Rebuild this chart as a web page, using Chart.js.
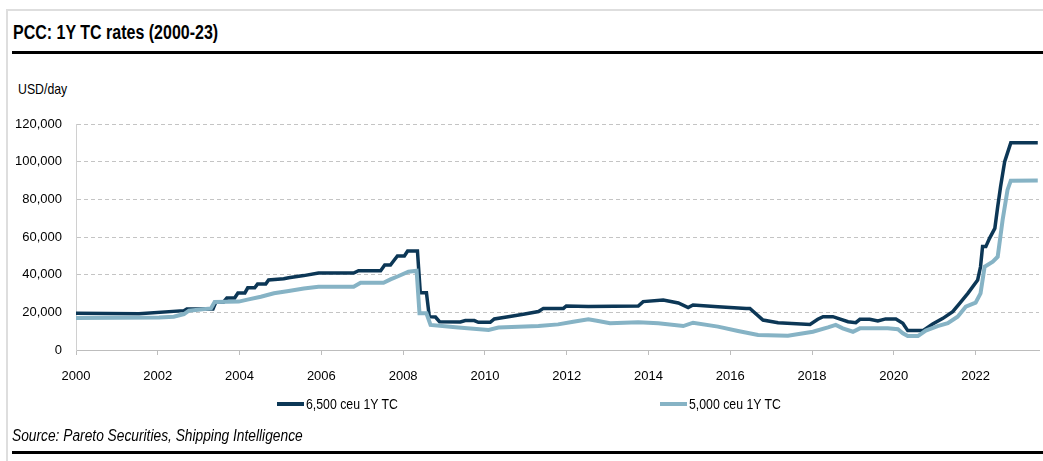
<!DOCTYPE html>
<html>
<head>
<meta charset="utf-8">
<script src="https://cdn.jsdelivr.net/npm/chart.js@4"></script>
<style>
  body { margin: 0; background: #fff; font-family: 'Liberation Sans', Arial, sans-serif; }
  #wrap { position: relative; width: 1043px; height: 461px; overflow: hidden; }
  #frame { position: absolute; left: 6px; top: 9px; width: 1100px; height: 500px; border: 2px solid #dedede; box-sizing: border-box; }
  .narrow { transform-origin: 0 50%; white-space: nowrap; }
  #title { position: absolute; left: 13px; top: 21px; font-size: 20px; font-weight: bold; color: #000; transform: scaleX(0.8); }
  .rule { position: absolute; left: 12px; right: 0; height: 3px; background: #000; }
  #unit { position: absolute; left: 18px; top: 80px; font-size: 15px; color: #000; transform: scaleX(0.82); }
  #chart { position: absolute; left: 0; top: 0; }
  .leg { position: absolute; top: 395px; font-size: 15px; color: #000; }
  .leg i { display: inline-block; width: 27px; height: 4px; vertical-align: middle; position: relative; top: -1px; }
  .leg span { display: inline-block; transform: scaleX(0.82); transform-origin: 0 50%; margin-left: 2px; }
  #source { position: absolute; left: 12px; top: 427px; font-size: 16px; font-style: italic; color: #000; transform: scaleX(0.86); }
</style>
</head>
<body>
<div id="wrap">
  <div id="frame"></div>
  <div id="title" class="narrow">PCC: 1Y TC rates (2000-23)</div>
  <div class="rule" style="top:51px"></div>
  <div id="unit" class="narrow">USD/day</div>
  <canvas id="chart" width="1043" height="461"></canvas>
  <div class="leg narrow" style="left:277px"><i style="background:#0c3756"></i><span>6,500 ceu 1Y TC</span></div>
  <div class="leg narrow" style="left:660px"><i style="background:#86b3c5"></i><span>5,000 ceu 1Y TC</span></div>
  <div id="source" class="narrow">Source: Pareto Securities, Shipping Intelligence</div>
  <div class="rule" style="top:451px"></div>
</div>
<script>
// 6,500 ceu 1Y TC (USD/day)
const bigYears = [2000.00, 2001.54, 2002.64, 2002.71, 2003.35, 2003.42, 2003.61, 2003.69, 2003.88, 2003.96,
  2004.13, 2004.20, 2004.37, 2004.44, 2004.64, 2004.71, 2005.08, 2005.20, 2005.57, 2005.93,
  2006.79, 2006.91, 2007.45, 2007.55, 2007.69, 2007.77, 2007.86, 2008.03, 2008.11, 2008.35,
  2008.42, 2008.57, 2008.64, 2008.79, 2008.89, 2009.40, 2009.52, 2009.74, 2009.84, 2010.13,
  2010.23, 2010.57, 2010.94, 2011.31, 2011.43, 2011.92, 2011.99, 2012.53, 2013.75, 2013.87,
  2014.36, 2014.73, 2014.97, 2015.09, 2015.70, 2016.39, 2016.48, 2016.80, 2017.17, 2017.95,
  2018.14, 2018.27, 2018.51, 2018.88, 2019.07, 2019.17, 2019.41, 2019.61, 2019.80, 2020.05,
  2020.22, 2020.34, 2020.71, 2020.95, 2021.20, 2021.44, 2021.61, 2021.81, 2022.05, 2022.12,
  2022.17, 2022.25, 2022.34, 2022.47, 2022.54, 2022.61, 2022.71, 2022.86, 2023.52];
const bigRates = [19500, 19200, 20900, 21800, 21800, 25500, 25500, 27600, 27600, 30300,
  30300, 33000, 33000, 35000, 35000, 37200, 37800, 38400, 39500, 40900,
  40900, 42100, 42100, 45100, 45100, 47400, 49900, 49900, 52600, 52600,
  30400, 30400, 17700, 17500, 15000, 14900, 15600, 15600, 14700, 14700,
  16500, 17700, 19000, 20400, 22100, 22100, 23400, 23100, 23300, 25700,
  26500, 25000, 22500, 23900, 23000, 22100, 22100, 15900, 14500, 13600,
  16300, 17700, 17700, 15000, 14500, 16300, 16300, 15400, 16500, 16500,
  14200, 10300, 10300, 13800, 16800, 20400, 24800, 30100, 37200, 44200,
  54900, 54900, 59300, 64600, 76100, 86700, 100000, 110000, 110000];

// 5,000 ceu 1Y TC (USD/day)
const smallYears = [2000.00, 2002.03, 2002.39, 2002.64, 2002.76, 2003.30, 2003.39, 2003.98, 2004.22, 2004.52,
  2004.84, 2005.20, 2005.57, 2005.93, 2006.79, 2006.96, 2007.52, 2007.69, 2007.89, 2008.13,
  2008.33, 2008.40, 2008.57, 2008.67, 2009.35, 2010.09, 2010.33, 2011.31, 2011.79, 2012.16,
  2012.53, 2012.77, 2013.06, 2013.75, 2014.24, 2014.85, 2015.09, 2015.70, 2016.19, 2016.68,
  2017.41, 2018.02, 2018.39, 2018.58, 2018.75, 2019.00, 2019.17, 2019.85, 2020.10, 2020.22,
  2020.34, 2020.59, 2020.78, 2021.07, 2021.32, 2021.56, 2021.76, 2022.00, 2022.12, 2022.22,
  2022.42, 2022.54, 2022.66, 2022.78, 2022.86, 2023.52];
const smallRates = [17000, 17300, 17700, 19100, 20900, 22100, 25500, 25700, 26900, 28300,
  30100, 31300, 32700, 33600, 33600, 35700, 35700, 37500, 39300, 41600,
  42100, 19500, 19500, 13300, 11900, 10600, 11900, 12700, 13600, 15000,
  16300, 15400, 14200, 14700, 14200, 12700, 14500, 12400, 10100, 8000,
  7600, 9700, 12000, 13300, 11500, 9700, 11500, 11500, 11000, 8900,
  7400, 7400, 10300, 12700, 14200, 17700, 23000, 25100, 30100, 44200,
  46900, 49500, 69000, 85000, 89900, 90000];

const xTicks = [2000, 2002, 2004, 2006, 2008, 2010, 2012, 2014, 2016, 2018, 2020, 2022];
const yTicks = [0, 20000, 40000, 60000, 80000, 100000, 120000];

const font = { family: "'Liberation Sans', Arial, sans-serif", size: 13 };
const toPoints = (xs, ys) => xs.map((x, i) => ({ x, y: ys[i] }));

new Chart(document.getElementById('chart'), {
  type: 'line',
  data: {
    datasets: [
      { label: '5,000 ceu 1Y TC', data: toPoints(smallYears, smallRates), borderColor: '#86b3c5', borderWidth: 4, pointRadius: 0, tension: 0 },
      { label: '6,500 ceu 1Y TC', data: toPoints(bigYears, bigRates), borderColor: '#0c3756', borderWidth: 3.5, pointRadius: 0, tension: 0 },
    ]
  },
  options: {
    responsive: false,
    animation: false,
    layout: { padding: { left: 0, top: 124, right: 4, bottom: 0 } },
    plugins: { legend: { display: false }, tooltip: { enabled: false } },
    scales: {
      x: {
        type: 'linear', min: 2000, max: 2023.55,
        afterFit: s => { s.height = 111; },
        afterBuildTicks: s => { s.ticks = xTicks.map(v => ({ value: v })); },
        ticks: { font, color: '#000', padding: 14, maxRotation: 0, callback: v => String(v) },
        grid: { drawOnChartArea: false, drawTicks: true, tickLength: 5, color: '#bdbdbd' },
        border: { color: '#bdbdbd', width: 1 }
      },
      y: {
        min: 0, max: 120000,
        afterFit: s => { s.width = 76; },
        afterBuildTicks: s => { s.ticks = yTicks.map(v => ({ value: v })); },
        ticks: { font, color: '#000', padding: 14, callback: v => v.toLocaleString('en-US') },
        grid: { drawTicks: false, color: c => c.tick.value === 0 ? 'rgba(0,0,0,0)' : '#c4c4c4' },
        border: { color: '#d0d0d0', width: 1, dash: [4, 3] }
      }
    }
  }
});
</script>
</body>
</html>
